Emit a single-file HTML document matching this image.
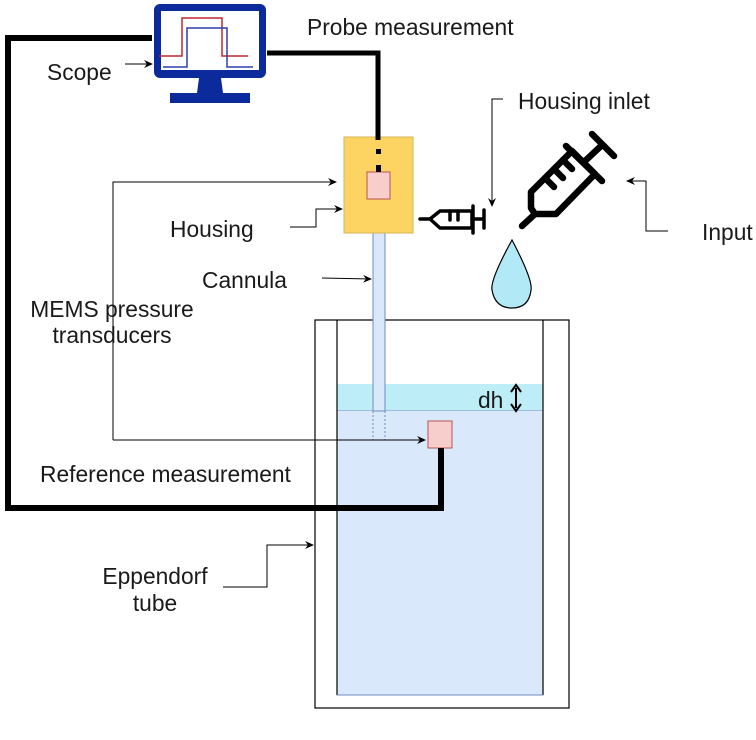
<!DOCTYPE html>
<html><head><style>
body{margin:0;background:#fff;}
svg{display:block;}
text{font-family:"Liberation Sans",Arial,sans-serif;font-size:22.8px;fill:#1a1a1a;}
</style></head><body>
<svg width="756" height="740" viewBox="0 0 756 740">
<defs>
<marker id="a" markerWidth="10" markerHeight="10" refX="8" refY="5" orient="auto" markerUnits="userSpaceOnUse"><path d="M0,1 L9,5 L0,9 L3,5 Z" fill="#000"/></marker>
</defs>
<!-- tube -->
<rect x="315" y="320" width="254" height="388" fill="#fff" stroke="#000" stroke-width="1.2"/>
<rect x="337" y="410" width="206" height="285" fill="#dae8fc" stroke="#6c8ebf" stroke-width="1"/>
<rect x="337" y="384" width="206" height="26" fill="#bdeef8"/>
<line x1="337" y1="320" x2="337" y2="695" stroke="#000" stroke-width="1.2"/>
<line x1="543" y1="320" x2="543" y2="695" stroke="#000" stroke-width="1.2"/>
<line x1="337" y1="695" x2="543" y2="695" stroke="#6c8ebf"/>
<!-- cannula -->
<rect x="373" y="233" width="12" height="178" fill="#dae8fc" stroke="#6c8ebf"/>
<line x1="373" y1="411" x2="373" y2="440" stroke="#6c8ebf" stroke-dasharray="2,2"/>
<line x1="385" y1="411" x2="385" y2="440" stroke="#6c8ebf" stroke-dasharray="2,2"/>
<!-- housing -->
<rect x="344" y="137" width="69" height="96" fill="#fdd462" stroke="#d6b656"/>
<rect x="367" y="172" width="23" height="27" fill="#f8cecc" stroke="#b85450"/>
<rect x="376" y="149" width="5" height="5" fill="#000"/>
<rect x="376" y="165" width="5" height="7" fill="#000"/>
<!-- sensor -->
<rect x="428" y="421" width="24" height="27" fill="#f8cecc" stroke="#b85450"/>
<!-- thick lines -->
<polyline points="152,38 8,38 8,508 441,508 441,448" fill="none" stroke="#000" stroke-width="6"/>
<polyline points="267,53 378,53 378,140" fill="none" stroke="#000" stroke-width="5"/>
<!-- monitor -->
<rect x="154" y="4" width="112" height="74" rx="6" fill="#0b2a9c"/>
<rect x="161" y="11" width="98" height="59" fill="#fff"/>
<path d="M199,78 L221,78 L223,93 L197,93 Z" fill="#0b2a9c"/>
<rect x="170" y="93" width="80" height="10" fill="#0b2a9c"/>
<polyline points="159,56 182,56 182,18 222,18 222,56 248,56" fill="none" stroke="#c0282c" stroke-width="1.5"/>
<polyline points="163,67 187,67 187,28 227,28 227,67 253,67" fill="none" stroke="#2b3fb0" stroke-width="1.5"/>
<!-- thin arrows -->
<line x1="125" y1="64" x2="152" y2="64" stroke="#000" marker-end="url(#a)"/>
<polyline points="113,440 113,182 336,182" fill="none" stroke="#000" marker-end="url(#a)"/>
<line x1="113" y1="440" x2="425" y2="440" stroke="#000" marker-end="url(#a)"/>
<path d="M290,227 L316,227 L316,209 L342,209" fill="none" stroke="#000" marker-end="url(#a)"/>
<line x1="322" y1="278" x2="371" y2="279" stroke="#000" marker-end="url(#a)"/>
<path d="M503,99 L492,99 L492,206" fill="none" stroke="#000" marker-end="url(#a)"/>
<path d="M668,231 L646,231 L646,181 L627,181" fill="none" stroke="#000" marker-end="url(#a)"/>
<path d="M223,587 L267,587 L267,545 L313,545" fill="none" stroke="#000" marker-end="url(#a)"/>
<!-- dh arrow -->
<line x1="516" y1="388" x2="516" y2="408" stroke="#000" stroke-width="2"/>
<path d="M511,392 L516,385 L521,392 M511,404 L516,411 L521,404" fill="none" stroke="#000" stroke-width="2"/>
<!-- small syringe -->
<g stroke="#000" stroke-width="3.5" fill="none" stroke-linecap="round" stroke-linejoin="round">
<line x1="420" y1="219" x2="430" y2="219"/>
<path d="M430,219 L440,211 L472,211 L472,228 L440,228 Z"/>
<line x1="450" y1="211" x2="450" y2="220"/>
<line x1="458" y1="211" x2="458" y2="220"/>
<line x1="472" y1="219" x2="483" y2="219"/>
<line x1="484" y1="210" x2="484" y2="228"/>
<line x1="473" y1="206" x2="473" y2="233"/>
</g>
<!-- big syringe -->
<g stroke="#000" stroke-width="6.5" fill="none" stroke-linecap="round" stroke-linejoin="round">
<line x1="522" y1="226" x2="535" y2="214"/>
<path d="M535,214 L531,208 L531,192 L572,151 L595,174 L556,214 Z"/>
<line x1="545" y1="178" x2="554" y2="187"/>
<line x1="554" y1="169" x2="563" y2="178"/>
<line x1="563" y1="160" x2="572" y2="169"/>
<line x1="566" y1="146" x2="602" y2="181"/>
<line x1="585" y1="161" x2="601" y2="146"/>
<line x1="592" y1="134" x2="614" y2="156"/>
</g>
<!-- drop -->
<path d="M512,240 Q490,280 492,290 Q495,308 512,308 Q529,308 531,290 Q533,280 512,240 Z" fill="#b1e9f7" stroke="#000" stroke-width="1.2"/>
<!-- labels -->
<text x="47" y="80">Scope</text>
<text x="307" y="35">Probe measurement</text>
<text x="518" y="109">Housing inlet</text>
<text x="702" y="240">Input</text>
<text x="170" y="237">Housing</text>
<text x="202" y="288">Cannula</text>
<text x="112" y="317" text-anchor="middle">MEMS pressure</text>
<text x="112" y="343" text-anchor="middle">transducers</text>
<text x="478" y="408">dh</text>
<text x="40" y="482">Reference measurement</text>
<text x="155" y="584" text-anchor="middle">Eppendorf</text>
<text x="155" y="611" text-anchor="middle">tube</text>
</svg>
</body></html>
